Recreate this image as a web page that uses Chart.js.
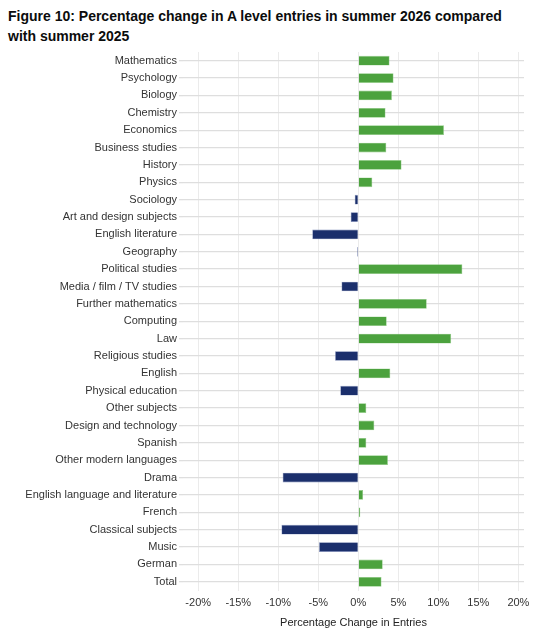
<!DOCTYPE html>
<html>
<head>
<meta charset="utf-8">
<script src="https://cdn.jsdelivr.net/npm/chart.js@4"></script>
<style>
  body { margin: 0; background: #fff; }
  #wrap { position: relative; width: 544px; height: 640px; }
  #title {
    position: absolute; left: 8px; top: 6px; width: 530px;
    font-family: "Liberation Sans", Arial, sans-serif; font-weight: bold;
    font-size: 14px; line-height: 20px; color: #0b0c0c;
  }
  canvas { position: absolute; left: 0; top: 0; }
</style>
</head>
<body>
<div id="wrap">
  <div id="title">Figure 10: Percentage change in A level entries in summer 2026 compared<br>with summer 2025</div>
  <canvas id="chart" width="544" height="640"></canvas>
</div>
<script>
// subjects, top to bottom
const subjects = [
  'Mathematics', 'Psychology', 'Biology', 'Chemistry', 'Economics',
  'Business studies', 'History', 'Physics', 'Sociology', 'Art and design subjects',
  'English literature', 'Geography', 'Political studies', 'Media / film / TV studies',
  'Further mathematics', 'Computing', 'Law', 'Religious studies', 'English',
  'Physical education', 'Other subjects', 'Design and technology', 'Spanish',
  'Other modern languages', 'Drama', 'English language and literature', 'French',
  'Classical subjects', 'Music', 'German', 'Total'
];
// % change in entries, 2025 -> 2026
const pctChange = [
  3.9, 4.4, 4.2, 3.4, 10.7,
  3.5, 5.4, 1.75, -0.45, -0.95,
  -5.75, -0.15, 13.0, -2.1,
  8.55, 3.55, 11.6, -2.9, 4.0,
  -2.25, 1.0, 2.0, 1.0,
  3.7, -9.45, 0.6, 0.25,
  -9.6, -4.9, 3.05, 2.9
];
const xTicks = [-20, -15, -10, -5, 0, 5, 10, 15, 20];

const green = '#4ca23e';
const navy = '#1b2f6c';

new Chart(document.getElementById('chart'), {
  type: 'bar',
  data: {
    labels: subjects,
    datasets: [{
      data: pctChange,
      backgroundColor: pctChange.map(v => v >= 0 ? green : navy),
      borderColor: pctChange.map(v => v >= 0 ? '#8fcc84' : '#7e8cb8'),
      borderWidth: 0.6,
      barPercentage: 0.56,
      categoryPercentage: 1
    }]
  },
  options: {
    indexAxis: 'y',
    responsive: false,
    animation: false,
    layout: { padding: { top: 52, right: 20, left: 0, bottom: 0 } },
    plugins: { legend: { display: false }, tooltip: { enabled: false } },
    scales: {
      x: {
        min: -21.9,
        max: 20.7,
        afterBuildTicks: s => { s.ticks = xTicks.map(v => ({ value: v })); },
        afterFit: s => { s.height = 49.5; },
        border: { display: false },
        grid: { color: '#ebebeb', lineWidth: 1, drawTicks: false },
        ticks: {
          padding: 6,
          color: '#333',
          font: { family: '"Liberation Sans", Arial, sans-serif', size: 11 },
          callback: v => v + '%'
        },
        title: {
          display: true,
          text: 'Percentage Change in Entries',
          color: '#222',
          padding: { top: 0, bottom: 10 },
          font: { family: '"Liberation Sans", Arial, sans-serif', size: 11 }
        }
      },
      y: {
        afterFit: s => { s.width = 183; },
        border: { display: false },
        grid: { color: '#dedede', lineWidth: 1.3, tickLength: 4, offset: false },
        ticks: {
          padding: 2,
          color: '#333',
          autoSkip: false,
          font: { family: '"Liberation Sans", Arial, sans-serif', size: 11 }
        }
      }
    }
  }
});
</script>
</body>
</html>
